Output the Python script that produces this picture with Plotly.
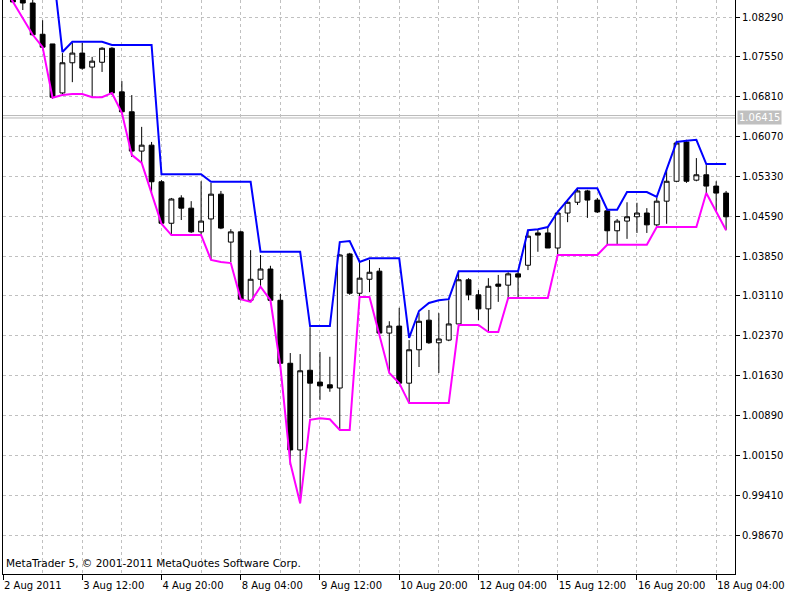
import plotly.graph_objects as go

# ---- data (H4 bars) ----
bar_index = list(range(74))

open_ = [1.0926, 1.0888, 1.0866, 1.0855, 1.0797, 1.0779, 1.0688, 1.0744, 1.0762, 1.0736,
         1.0745, 1.0771, 1.0690, 1.0653, 1.0580, 1.0591, 1.0523, 1.0446, 1.0493, 1.0474,
         1.0430, 1.0454, 1.0500, 1.0411, 1.0430, 1.0303, 1.0342, 1.0361, 1.0303, 1.0186,
         1.0025, 1.0173, 1.0151, 1.0146, 1.0140, 1.0389, 1.0316, 1.0342, 1.0357, 1.0242,
         1.0255, 1.0149, 1.0211, 1.0266, 1.0224, 1.0229, 1.0259, 1.0341, 1.0313, 1.0287,
         1.0333, 1.0331, 1.0352, 1.0368, 1.0428, 1.0428, 1.0400, 1.0465, 1.0485, 1.0506,
         1.0489, 1.0469, 1.0432, 1.0450, 1.0458, 1.0465, 1.0443, 1.0487, 1.0524, 1.0597,
         1.0526, 1.0536, 1.0515, 1.0502]
high = [1.0935, 1.0898, 1.0875, 1.0861, 1.0823, 1.0779, 1.0762, 1.0781, 1.0781, 1.0755,
        1.0773, 1.0773, 1.0710, 1.0684, 1.0625, 1.0597, 1.0526, 1.0493, 1.0498, 1.0487,
        1.0524, 1.0521, 1.0506, 1.0435, 1.0432, 1.0396, 1.0387, 1.0367, 1.0315, 1.0205,
        1.0203, 1.0253, 1.0207, 1.0198, 1.0389, 1.0391, 1.0374, 1.0378, 1.0363, 1.0264,
        1.0289, 1.0229, 1.0279, 1.0285, 1.0279, 1.0303, 1.0357, 1.0344, 1.0322, 1.0344,
        1.0350, 1.0355, 1.0359, 1.0433, 1.0435, 1.0439, 1.0467, 1.0489, 1.0511, 1.0508,
        1.0493, 1.0471, 1.0454, 1.0485, 1.0484, 1.0474, 1.0493, 1.0545, 1.0599, 1.0601,
        1.0567, 1.0554, 1.0524, 1.0506]
low = [1.0888, 1.0857, 1.0842, 1.0794, 1.0773, 1.0677, 1.0686, 1.0708, 1.0731, 1.0679,
       1.0727, 1.0684, 1.0651, 1.0569, 1.0558, 1.0502, 1.0443, 1.0424, 1.0452, 1.0428,
       1.0424, 1.0378, 1.0435, 1.0374, 1.0303, 1.0300, 1.0328, 1.0303, 1.0179, 0.9997,
       0.9926, 1.0084, 1.0118, 1.0133, 1.0062, 1.0313, 1.0309, 1.0318, 1.0242, 1.0168,
       1.0149, 1.0112, 1.0179, 1.0222, 1.0168, 1.0227, 1.0253, 1.0303, 1.0266, 1.0244,
       1.0300, 1.0305, 1.0307, 1.0359, 1.0393, 1.0400, 1.0387, 1.0448, 1.0480, 1.0456,
       1.0465, 1.0406, 1.0406, 1.0417, 1.0428, 1.0428, 1.0439, 1.0445, 1.0523, 1.0521,
       1.0524, 1.0502, 1.0467, 1.0433]
close = [1.0888, 1.0857, 1.0855, 1.0796, 1.0773, 1.0680, 1.0744, 1.0762, 1.0734, 1.0747,
         1.0771, 1.0688, 1.0653, 1.0580, 1.0591, 1.0523, 1.0446, 1.0491, 1.0474, 1.0430,
         1.0450, 1.0500, 1.0437, 1.0430, 1.0305, 1.0342, 1.0361, 1.0303, 1.0186, 1.0025,
         1.0172, 1.0149, 1.0144, 1.0140, 1.0387, 1.0316, 1.0344, 1.0355, 1.0242, 1.0255,
         1.0149, 1.0211, 1.0264, 1.0224, 1.0231, 1.0259, 1.0341, 1.0313, 1.0287, 1.0329,
         1.0329, 1.0352, 1.0346, 1.0422, 1.0424, 1.0400, 1.0465, 1.0485, 1.0506, 1.0489,
         1.0467, 1.0432, 1.0450, 1.0458, 1.0465, 1.0443, 1.0487, 1.0524, 1.0595, 1.0524,
         1.0536, 1.0515, 1.0502, 1.0458]

upper_band = [1.0926, 1.0926, 1.0926, 1.0926, 1.0926, 1.0926, 1.0764, 1.0783, 1.0783, 1.0783,
              1.0783, 1.0777, 1.0777, 1.0777, 1.0777, 1.0777, 1.0537, 1.0537, 1.0537, 1.0537,
              1.0537, 1.0523, 1.0523, 1.0523, 1.0523, 1.0523, 1.0393, 1.0393, 1.0393, 1.0393,
              1.0393, 1.0255, 1.0255, 1.0255, 1.0411, 1.0413, 1.0374, 1.0381, 1.0381, 1.0381,
              1.0381, 1.0233, 1.0283, 1.0298, 1.0303, 1.0305, 1.0357, 1.0357, 1.0357, 1.0357,
              1.0357, 1.0357, 1.0357, 1.0433, 1.0435, 1.0439, 1.0467, 1.0489, 1.0511, 1.0511,
              1.0511, 1.0471, 1.0471, 1.0504, 1.0504, 1.0504, 1.0495, 1.0545, 1.0597, 1.0599,
              1.0601, 1.0556, 1.0556, 1.0556]
lower_band = [1.0888, 1.0857, 1.0827, 1.0796, 1.0773, 1.0679, 1.0684, 1.0686, 1.0686, 1.0680,
              1.0680, 1.0688, 1.0651, 1.0573, 1.0558, 1.0502, 1.0445, 1.0424, 1.0424, 1.0424,
              1.0424, 1.0378, 1.0374, 1.0372, 1.0305, 1.0300, 1.0328, 1.0303, 1.0181, 1.0001,
              0.9926, 1.0081, 1.0084, 1.0082, 1.0062, 1.0062, 1.0309, 1.0309, 1.0238, 1.0168,
              1.0149, 1.0112, 1.0112, 1.0112, 1.0112, 1.0112, 1.0257, 1.0257, 1.0257, 1.0244,
              1.0244, 1.0307, 1.0307, 1.0307, 1.0307, 1.0307, 1.0387, 1.0387, 1.0387, 1.0387,
              1.0387, 1.0406, 1.0406, 1.0406, 1.0406, 1.0406, 1.0439, 1.0439, 1.0439, 1.0439,
              1.0439, 1.0502, 1.0467, 1.0433]

tick_bars = [0, 8, 16, 24, 32, 40, 48, 56, 64, 72]
tick_labels = ["2 Aug 2011", "3 Aug 12:00", "4 Aug 20:00", "8 Aug 04:00", "9 Aug 12:00",
               "10 Aug 20:00", "12 Aug 04:00", "15 Aug 12:00", "16 Aug 20:00", "18 Aug 04:00"]
price_ticks = [0.98670, 0.99410, 1.00150, 1.00890, 1.01630, 1.02370, 1.03110,
               1.03850, 1.04590, 1.05330, 1.06070, 1.06810, 1.07550, 1.08290]
bid_price = 1.06415
ask_price = 1.06460
watermark = "MetaTrader 5, \u00a9 2001-2011 MetaQuotes Software Corp."

GRID = "#c0c0c0"
FONT = "DejaVu Sans"

fig = go.Figure()

fig.add_trace(go.Candlestick(
    x=bar_index, open=open_, high=high, low=low, close=close,
    increasing=dict(line=dict(color="black", width=1), fillcolor="white"),
    decreasing=dict(line=dict(color="black", width=1), fillcolor="black"),
    whiskerwidth=0, hoverinfo="skip", showlegend=False,
))
fig.add_trace(go.Scatter(x=bar_index, y=upper_band, mode="lines",
                         line=dict(color="#0000ff", width=2), hoverinfo="skip", showlegend=False))
fig.add_trace(go.Scatter(x=bar_index, y=lower_band, mode="lines",
                         line=dict(color="#ff00ff", width=2), hoverinfo="skip", showlegend=False))

for p in (ask_price, bid_price):
    fig.add_shape(type="line", xref="paper", x0=0, x1=1, yref="y", y0=p, y1=p,
                  line=dict(color="#b8b8b8", width=1), layer="below")

fig.add_annotation(xref="paper", x=1, xanchor="left", xshift=2, yref="y", y=bid_price,
                   text=f"{bid_price:.5f}", showarrow=False, bgcolor="#c0c0c0",
                   font=dict(family=FONT, size=10, color="white"), borderpad=1)
fig.add_annotation(xref="paper", x=0, xanchor="left", xshift=1, yref="paper", y=0,
                   yanchor="bottom", yshift=3, text=watermark, showarrow=False,
                   font=dict(family=FONT, size=10.5, color="black"))

fig.update_layout(
    width=800, height=600,
    margin=dict(l=3, r=65, t=0, b=26),
    paper_bgcolor="white", plot_bgcolor="white",
    font=dict(family=FONT, size=10, color="black"),
    showlegend=False,
    xaxis=dict(
        range=[0, 73.9], tickmode="array", tickvals=tick_bars, ticktext=tick_labels,
        ticklabelposition="outside right", ticks="outside", ticklen=5, tickcolor="black",
        ticklabelstandoff=2,
        showgrid=True, gridcolor=GRID, griddash="3px,3px", gridwidth=1,
        minor=dict(tickmode="array", tickvals=[b + 4 for b in tick_bars], showgrid=True,
                   gridcolor=GRID, griddash="3px,3px", ticklen=0),
        showline=True, linecolor="black", linewidth=1, zeroline=False,
        rangeslider=dict(visible=False), fixedrange=True,
    ),
    yaxis=dict(
        side="right", range=[0.97946, 1.08606], tickmode="array", tickvals=price_ticks,
        tickformat=".5f", ticks="outside", ticklen=4, tickcolor="black",
        showgrid=True, gridcolor=GRID, griddash="3px,3px", gridwidth=1,
        showline=True, mirror=True, linecolor="black", linewidth=1, zeroline=False,
        fixedrange=True,
    ),
)

fig.write_html("out.html")
